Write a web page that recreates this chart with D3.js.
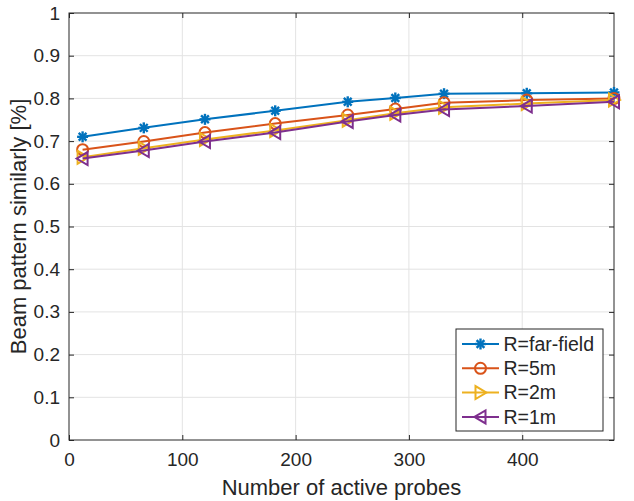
<!DOCTYPE html>
<html>
<head>
<meta charset="utf-8">
<script src="https://cdn.jsdelivr.net/npm/d3@7"></script>
<style>
  body { margin: 0; background: #fff; }
  text { font-family: "Liberation Sans", Arial, Helvetica, sans-serif; fill: #262626; }
</style>
</head>
<body>
<script>
// chart data
var probes = [12, 66, 120, 182, 246, 288, 331, 404, 481];
var farField = [0.710, 0.731, 0.751, 0.771, 0.792, 0.801, 0.811, 0.812, 0.814];
var r5m = [0.680, 0.699, 0.720, 0.741, 0.761, 0.775, 0.790, 0.796, 0.800];
var r2m = [0.662, 0.683, 0.704, 0.725, 0.749, 0.765, 0.779, 0.788, 0.796];
var r1m = [0.659, 0.678, 0.699, 0.720, 0.746, 0.761, 0.774, 0.782, 0.792];
var seriesNames = ["R=far-field", "R=5m", "R=2m", "R=1m"];
var xTicks = [0, 100, 200, 300, 400];
var yTicks = [0, 0.1, 0.2, 0.3, 0.4, 0.5, 0.6, 0.7, 0.8, 0.9, 1];

var W = 634, H = 501;
var m = {left: 69, right: 20, top: 13, bottom: 61};

var series = [
  {name: seriesNames[0], values: farField, color: "#0072BD", marker: "star"},
  {name: seriesNames[1], values: r5m, color: "#D95319", marker: "circle"},
  {name: seriesNames[2], values: r2m, color: "#EDB120", marker: "right"},
  {name: seriesNames[3], values: r1m, color: "#7E2F8E", marker: "left"}
];

var svg = d3.select("body").append("svg")
  .attr("width", W)
  .attr("height", H);

var x = d3.scaleLinear().domain([0, 481]).range([m.left, W - m.right]);
var y = d3.scaleLinear().domain([0, 1]).range([H - m.bottom, m.top]);

// grid
svg.append("g").selectAll("line").data(xTicks.slice(1)).enter().append("line")
  .attr("x1", function(d) { return x(d); }).attr("x2", function(d) { return x(d); })
  .attr("y1", y(0)).attr("y2", y(1))
  .attr("stroke", "#e3e3e3").attr("stroke-width", 1);
svg.append("g").selectAll("line").data(yTicks.slice(1, -1)).enter().append("line")
  .attr("y1", function(d) { return y(d); }).attr("y2", function(d) { return y(d); })
  .attr("x1", x(0)).attr("x2", x(481))
  .attr("stroke", "#e3e3e3").attr("stroke-width", 1);

// axes with inward ticks
var axisColor = "#262626";
function styleAxis(g) {
  g.select(".domain").remove();
  g.selectAll(".tick line").attr("stroke", axisColor);
  g.selectAll(".tick text").attr("font-size", "19px")
    .attr("fill", axisColor)
    .style("font-family", '"Liberation Sans", Arial, sans-serif');
}
svg.append("g").attr("transform", "translate(0," + y(0) + ")")
  .call(d3.axisBottom(x).tickValues(xTicks).tickSize(-5).tickPadding(13).tickFormat(d3.format("d")))
  .call(styleAxis);
svg.append("g").attr("transform", "translate(0," + y(1) + ")")
  .call(d3.axisTop(x).tickValues(xTicks).tickSize(-5).tickFormat(""))
  .call(styleAxis);
svg.append("g").attr("transform", "translate(" + x(0) + ",0)")
  .call(d3.axisLeft(y).tickValues(yTicks).tickSize(-5).tickPadding(9).tickFormat(function(d) { return d === 0 || d === 1 ? d3.format("d")(d) : d3.format(".1f")(d); }))
  .call(styleAxis);
svg.append("g").attr("transform", "translate(" + x(481) + ",0)")
  .call(d3.axisRight(y).tickValues(yTicks).tickSize(-5).tickFormat(""))
  .call(styleAxis);

svg.append("rect")
  .attr("x", x(0)).attr("y", y(1))
  .attr("width", x(481) - x(0)).attr("height", y(0) - y(1))
  .attr("fill", "none").attr("stroke", axisColor).attr("stroke-width", 1);

// axis labels
svg.append("text")
  .attr("x", (x(0) + x(481)) / 2).attr("y", 495)
  .attr("text-anchor", "middle").attr("font-size", "22px")
  .text("Number of active probes");
svg.append("text")
  .attr("transform", "translate(26," + ((y(0) + y(1)) / 2) + ") rotate(-90)")
  .attr("text-anchor", "middle").attr("font-size", "22px")
  .text("Beam pattern similarly [%]");

// markers
function drawMarker(g, type, color) {
  if (type === "star") {
    var r = 5.5;
    for (var a = 0; a < 4; a++) {
      var ang = a * Math.PI / 4;
      g.append("line")
        .attr("x1", -r * Math.cos(ang)).attr("y1", -r * Math.sin(ang))
        .attr("x2", r * Math.cos(ang)).attr("y2", r * Math.sin(ang))
        .attr("stroke", color).attr("stroke-width", 2.4);
    }
  } else if (type === "circle") {
    g.append("circle").attr("r", 5.5)
      .attr("fill", "none").attr("stroke", color).attr("stroke-width", 2);
  } else {
    var s = type === "right" ? 1 : -1;
    g.append("path")
      .attr("d", "M" + (6 * s) + ",0 L" + (-5 * s) + ",-6.5 L" + (-5 * s) + ",6.5 Z")
      .attr("fill", "none").attr("stroke", color).attr("stroke-width", 2)
      .attr("stroke-linejoin", "miter");
  }
}

var line = d3.line()
  .x(function(d, i) { return x(probes[i]); })
  .y(function(d) { return y(d); });

series.forEach(function(s) {
  svg.append("path")
    .datum(s.values)
    .attr("d", line)
    .attr("fill", "none")
    .attr("stroke", s.color)
    .attr("stroke-width", 2);
  s.values.forEach(function(v, i) {
    var g = svg.append("g").attr("transform", "translate(" + x(probes[i]) + "," + y(v) + ")");
    drawMarker(g, s.marker, s.color);
  });
});

// legend
var lg = svg.append("g");
lg.append("rect")
  .attr("x", 456).attr("y", 329)
  .attr("width", 147).attr("height", 102)
  .attr("fill", "#fff").attr("stroke", axisColor).attr("stroke-width", 1);
series.forEach(function(s, i) {
  var ly = 344 + i * 24.3;
  lg.append("line")
    .attr("x1", 462).attr("x2", 499).attr("y1", ly).attr("y2", ly)
    .attr("stroke", s.color).attr("stroke-width", 2);
  var g = lg.append("g").attr("transform", "translate(480.5," + ly + ")");
  drawMarker(g, s.marker, s.color);
  lg.append("text")
    .attr("x", 503.5).attr("y", ly)
    .attr("dy", "0.35em")
    .attr("font-size", "19.5px")
    .text(s.name);
});
</script>
</body>
</html>
